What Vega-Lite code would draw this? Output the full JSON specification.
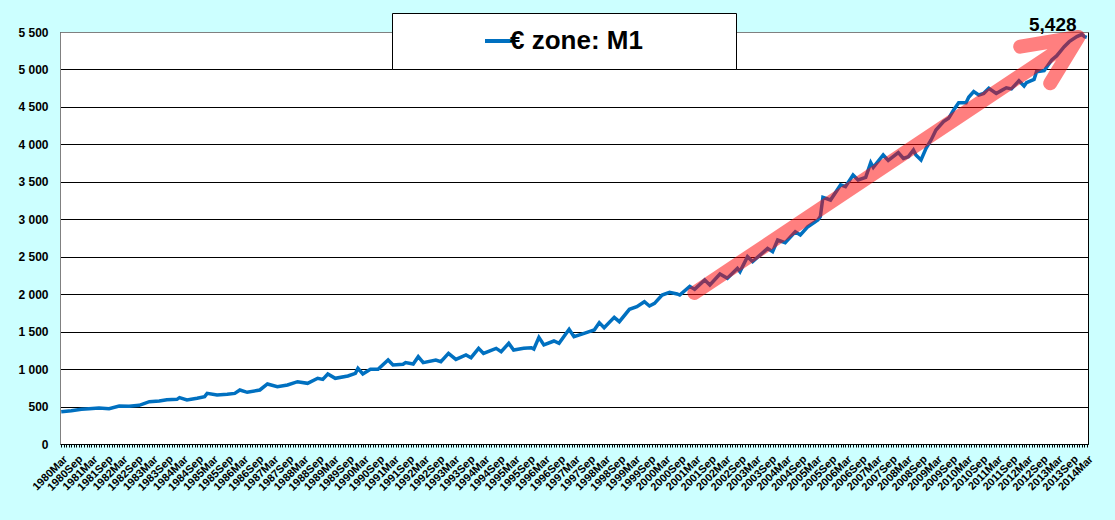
{
  "$schema": "https://vega.github.io/schema/vega-lite/v6.json",
  "width": 1028,
  "height": 412,
  "autosize": {"type": "none"},
  "padding": {"left": 60, "top": 32, "right": 27, "bottom": 76},
  "background": "#ccffff",
  "config": {
    "font": "Liberation Sans",
    "view": {"fill": "white", "stroke": "black", "strokeWidth": 1},
    "legend": {
      "orient": "none",
      "legendX": 332,
      "legendY": -19,
      "fillColor": "white",
      "strokeColor": "black",
      "padding": 13,
      "clipHeight": 30,
      "labelFont": "Liberation Sans",
      "labelFontSize": 26,
      "labelFontWeight": "bold",
      "labelColor": "black",
      "labelLimit": 0,
      "symbolType": "stroke",
      "symbolStrokeWidth": 4,
      "symbolSize": 729,
      "symbolOffset": 78,
      "labelOffset": -4
    }
  },
  "datasets": {
    "m1": [
      {"date": "1980-03-01", "value": 431},
      {"date": "1980-07-01", "value": 445},
      {"date": "1980-11-01", "value": 463},
      {"date": "1981-02-01", "value": 472},
      {"date": "1981-06-01", "value": 481},
      {"date": "1981-10-01", "value": 472},
      {"date": "1982-02-01", "value": 507},
      {"date": "1982-06-01", "value": 503},
      {"date": "1982-10-01", "value": 516},
      {"date": "1983-02-01", "value": 565},
      {"date": "1983-06-01", "value": 574},
      {"date": "1983-09-01", "value": 592},
      {"date": "1984-01-01", "value": 596},
      {"date": "1984-02-01", "value": 619},
      {"date": "1984-05-01", "value": 587},
      {"date": "1984-09-01", "value": 610},
      {"date": "1984-12-01", "value": 632},
      {"date": "1985-01-01", "value": 676},
      {"date": "1985-05-01", "value": 654},
      {"date": "1985-09-01", "value": 663},
      {"date": "1985-12-01", "value": 676},
      {"date": "1986-02-01", "value": 721},
      {"date": "1986-05-01", "value": 690},
      {"date": "1986-10-01", "value": 721},
      {"date": "1987-01-01", "value": 801},
      {"date": "1987-05-01", "value": 765},
      {"date": "1987-09-01", "value": 788},
      {"date": "1988-01-01", "value": 832},
      {"date": "1988-05-01", "value": 810},
      {"date": "1988-09-01", "value": 877},
      {"date": "1988-11-01", "value": 863},
      {"date": "1989-01-01", "value": 935},
      {"date": "1989-04-01", "value": 877},
      {"date": "1989-09-01", "value": 908},
      {"date": "1989-12-01", "value": 943},
      {"date": "1990-01-01", "value": 1010},
      {"date": "1990-03-01", "value": 935},
      {"date": "1990-06-01", "value": 997},
      {"date": "1990-09-01", "value": 997},
      {"date": "1991-01-01", "value": 1121},
      {"date": "1991-03-01", "value": 1055},
      {"date": "1991-07-01", "value": 1064},
      {"date": "1991-08-01", "value": 1086},
      {"date": "1991-11-01", "value": 1068},
      {"date": "1992-01-01", "value": 1166},
      {"date": "1992-03-01", "value": 1086},
      {"date": "1992-08-01", "value": 1121},
      {"date": "1992-10-01", "value": 1099},
      {"date": "1993-01-01", "value": 1210},
      {"date": "1993-04-01", "value": 1130},
      {"date": "1993-08-01", "value": 1188},
      {"date": "1993-10-01", "value": 1152},
      {"date": "1994-01-01", "value": 1277},
      {"date": "1994-03-01", "value": 1210},
      {"date": "1994-08-01", "value": 1277},
      {"date": "1994-10-01", "value": 1233},
      {"date": "1995-01-01", "value": 1344},
      {"date": "1995-03-01", "value": 1255},
      {"date": "1995-07-01", "value": 1277},
      {"date": "1995-10-01", "value": 1286},
      {"date": "1995-11-01", "value": 1268},
      {"date": "1996-01-01", "value": 1424},
      {"date": "1996-03-01", "value": 1322},
      {"date": "1996-07-01", "value": 1375},
      {"date": "1996-09-01", "value": 1344},
      {"date": "1997-01-01", "value": 1531},
      {"date": "1997-03-01", "value": 1433},
      {"date": "1997-07-01", "value": 1477},
      {"date": "1997-09-01", "value": 1500},
      {"date": "1997-11-01", "value": 1522},
      {"date": "1998-01-01", "value": 1620},
      {"date": "1998-03-01", "value": 1553},
      {"date": "1998-07-01", "value": 1691},
      {"date": "1998-09-01", "value": 1633},
      {"date": "1999-01-01", "value": 1798},
      {"date": "1999-04-01", "value": 1834},
      {"date": "1999-07-01", "value": 1900},
      {"date": "1999-09-01", "value": 1842},
      {"date": "1999-11-01", "value": 1878},
      {"date": "2000-02-01", "value": 1989},
      {"date": "2000-05-01", "value": 2025},
      {"date": "2000-08-01", "value": 2003},
      {"date": "2000-09-01", "value": 1989},
      {"date": "2001-01-01", "value": 2105},
      {"date": "2001-03-01", "value": 2064},
      {"date": "2001-07-01", "value": 2189},
      {"date": "2001-09-01", "value": 2123},
      {"date": "2002-01-01", "value": 2270},
      {"date": "2002-04-01", "value": 2212},
      {"date": "2002-08-01", "value": 2345},
      {"date": "2002-09-01", "value": 2301},
      {"date": "2002-12-01", "value": 2501},
      {"date": "2003-02-01", "value": 2434},
      {"date": "2003-08-01", "value": 2612},
      {"date": "2003-10-01", "value": 2568},
      {"date": "2003-12-01", "value": 2723},
      {"date": "2004-03-01", "value": 2688},
      {"date": "2004-07-01", "value": 2834},
      {"date": "2004-09-01", "value": 2790},
      {"date": "2004-12-01", "value": 2901},
      {"date": "2005-04-01", "value": 2990},
      {"date": "2005-05-01", "value": 3035},
      {"date": "2005-06-01", "value": 3293},
      {"date": "2005-09-01", "value": 3257},
      {"date": "2006-01-01", "value": 3458},
      {"date": "2006-03-01", "value": 3435},
      {"date": "2006-06-01", "value": 3591},
      {"date": "2006-08-01", "value": 3524},
      {"date": "2006-11-01", "value": 3560},
      {"date": "2007-01-01", "value": 3756},
      {"date": "2007-02-01", "value": 3694},
      {"date": "2007-06-01", "value": 3858},
      {"date": "2007-08-01", "value": 3785},
      {"date": "2007-12-01", "value": 3890},
      {"date": "2008-02-01", "value": 3813},
      {"date": "2008-04-01", "value": 3836},
      {"date": "2008-06-01", "value": 3925},
      {"date": "2008-07-01", "value": 3858},
      {"date": "2008-09-01", "value": 3791},
      {"date": "2008-11-01", "value": 3947},
      {"date": "2009-01-01", "value": 4058},
      {"date": "2009-03-01", "value": 4192},
      {"date": "2009-06-01", "value": 4303},
      {"date": "2009-08-01", "value": 4348},
      {"date": "2009-10-01", "value": 4459},
      {"date": "2009-12-01", "value": 4557},
      {"date": "2010-03-01", "value": 4557},
      {"date": "2010-04-01", "value": 4628},
      {"date": "2010-06-01", "value": 4704},
      {"date": "2010-08-01", "value": 4659},
      {"date": "2010-10-01", "value": 4681},
      {"date": "2010-12-01", "value": 4748},
      {"date": "2011-03-01", "value": 4680},
      {"date": "2011-05-01", "value": 4717},
      {"date": "2011-07-01", "value": 4755},
      {"date": "2011-09-01", "value": 4740},
      {"date": "2011-12-01", "value": 4850},
      {"date": "2012-02-01", "value": 4779},
      {"date": "2012-03-01", "value": 4824},
      {"date": "2012-06-01", "value": 4868},
      {"date": "2012-07-01", "value": 4970},
      {"date": "2012-10-01", "value": 4984},
      {"date": "2013-01-01", "value": 5126},
      {"date": "2013-03-01", "value": 5180},
      {"date": "2013-06-01", "value": 5304},
      {"date": "2013-08-01", "value": 5371},
      {"date": "2013-11-01", "value": 5438},
      {"date": "2014-01-01", "value": 5469},
      {"date": "2014-02-01", "value": 5438},
      {"date": "2014-03-01", "value": 5428}
    ],
    "arrow": [
      {"order": 1, "date": "2011-12-16", "value": 5304},
      {"order": 2, "date": "2013-11-19", "value": 5433},
      {"order": 3, "date": "2001-02-25", "value": 2016},
      {"order": 4, "date": "2013-11-19", "value": 5433},
      {"order": 5, "date": "2012-12-13", "value": 4815}
    ]
  },
  "encoding": {
    "x": {
      "field": "date",
      "type": "temporal",
      "scale": {
        "type": "utc",
        "domain": [
          {"year": 1980, "month": 2, "date": 15, "utc": true},
          {"year": 2014, "month": 3, "date": 16, "utc": true}
        ]
      },
      "axis": {
        "title": null,
        "grid": false,
        "tickCount": {"interval": "month", "step": 1},
        "labelExpr": "utcmonth(datum.value) == 2 || utcmonth(datum.value) == 8 ? utcFormat(datum.value, '%Y%b') : ''",
        "labelAngle": -45,
        "labelOverlap": false,
        "labelBound": false,
        "labelFlush": false,
        "labelFontSize": 11,
        "labelFontWeight": "bold",
        "labelColor": "black",
        "labelPadding": 6,
        "tickSize": 3,
        "tickColor": "black",
        "domainColor": "black"
      }
    },
    "y": {
      "field": "value",
      "type": "quantitative",
      "scale": {"domain": [0, 5500], "nice": false},
      "axis": {
        "title": null,
        "values": [0, 500, 1000, 1500, 2000, 2500, 3000, 3500, 4000, 4500, 5000, 5500],
        "labelExpr": "replace(format(datum.value, ','), ',', ' ')",
        "labelFontSize": 12,
        "labelFontWeight": "bold",
        "labelColor": "black",
        "labelPadding": 12,
        "ticks": false,
        "domainColor": "#808080",
        "gridColor": {"condition": {"test": "datum.value == 5500", "value": "#808080"}, "value": "black"},
        "gridOpacity": 1
      }
    }
  },
  "layer": [
    {
      "data": {"name": "m1"},
      "mark": {"type": "line", "strokeWidth": 3.5},
      "encoding": {
        "color": {
          "datum": "€ zone: M1",
          "scale": {"domain": ["€ zone: M1"], "range": ["#0070c0"]},
          "legend": {"title": null, "labelExpr": "datum.label + '\u00a0\u00a0\u00a0\u00a0\u00a0\u00a0\u00a0\u00a0\u00a0\u00a0\u00a0\u200b'"}
        }
      }
    },
    {
      "data": {"name": "arrow"},
      "mark": {
        "type": "line",
        "color": "#ff0000",
        "opacity": 0.5,
        "strokeWidth": 14,
        "strokeCap": "round",
        "strokeJoin": "round"
      },
      "encoding": {"order": {"field": "order"}}
    },
    {
      "data": {"name": "m1"},
      "transform": [{"filter": "datum.value == 5428"}],
      "mark": {
        "type": "text",
        "align": "center",
        "baseline": "alphabetic",
        "dx": -34,
        "dy": -6,
        "fontSize": 19,
        "fontWeight": "bold",
        "color": "black"
      },
      "encoding": {"text": {"field": "value", "format": ","}}
    }
  ]
}
